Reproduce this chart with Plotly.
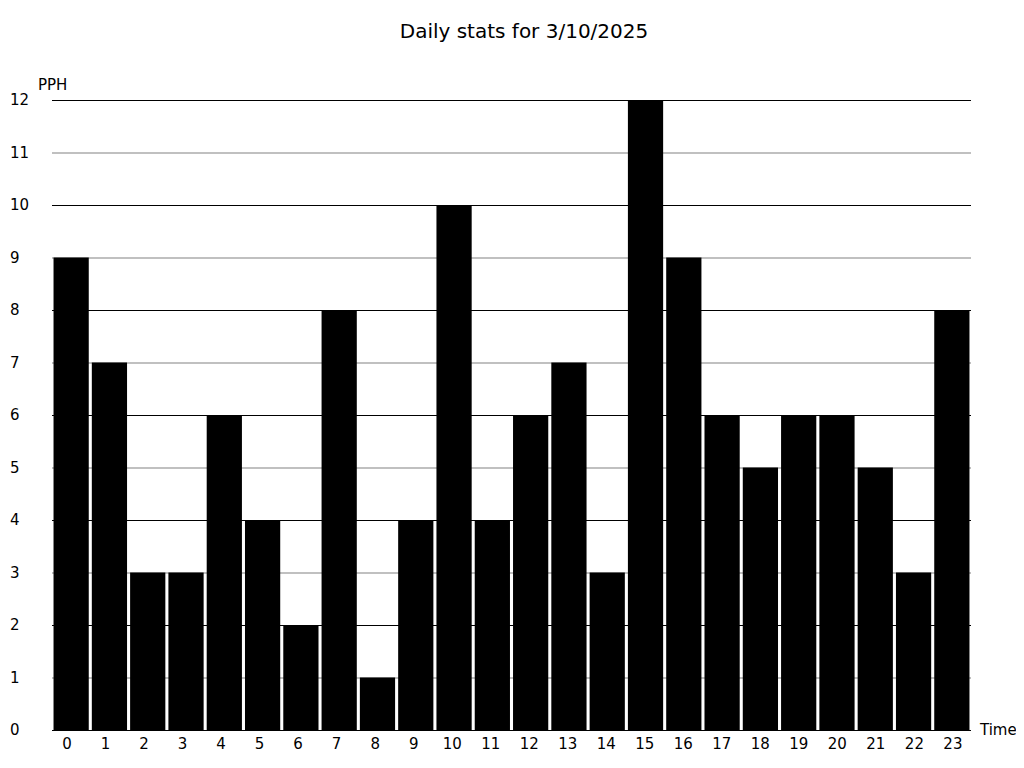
import plotly.graph_objects as go

hours = list(range(24))
pph = [9, 7, 3, 3, 6, 4, 2, 8, 1, 4, 10, 4, 6, 7, 3, 12, 9, 6, 5, 6, 6, 5, 3, 8]
y_ticks = list(range(13))

FONT = "DejaVu Sans"
W, H = 1016, 760
L, R, T, B = 44, 53, 91, 38
plot_w = W - L - R

fig = go.Figure()
fig.add_trace(go.Bar(
    x=hours, y=pph,
    marker=dict(color="#000000", line=dict(width=0)),
    showlegend=False, hoverinfo="x+y",
))
# invisible carrier so the label axis gets drawn
fig.add_trace(go.Scatter(
    x=hours, y=pph, xaxis="x2", mode="markers",
    marker=dict(opacity=0), showlegend=False, hoverinfo="skip",
))

# y tick labels sit flush left, so they are drawn as annotations
annotations = []
for v in y_ticks:
    annotations.append(dict(
        x=-L / plot_w, xref="paper", y=v, yref="y",
        text=str(v), showarrow=False, xanchor="left", yanchor="middle",
        font=dict(family=FONT, size=15, color="#000"),
    ))
annotations.append(dict(
    x=-16 / plot_w, xref="paper", y=1, yref="paper", yshift=14,
    text="PPH", showarrow=False, xanchor="left", yanchor="middle",
    font=dict(family=FONT, size=15, color="#000"),
))
annotations.append(dict(
    x=1, xref="paper", xshift=6, y=0, yref="paper",
    text="Time", showarrow=False, xanchor="left", yanchor="middle",
    font=dict(family=FONT, size=15, color="#000"),
))

fig.update_layout(
    width=W, height=H,
    margin=dict(l=L, r=R, t=T, b=B, autoexpand=False),
    paper_bgcolor="white", plot_bgcolor="white",
    bargap=0.08,
    title=dict(text="Daily stats for 3/10/2025", x=516 / W, xanchor="center",
               y=1 - 23 / H, yanchor="middle",
               font=dict(family=FONT, size=20, color="#000")),
    xaxis=dict(
        range=[-0.5, 23.5], showgrid=False, zeroline=False,
        showline=True, linecolor="#000", linewidth=1, ticks="",
        showticklabels=False,
    ),
    # the hour labels run on a slightly wider spacing than the bars
    xaxis2=dict(
        overlaying="x", anchor="y", side="bottom",
        range=[-0.39, 23.47], showgrid=False, zeroline=False, showline=False,
        tickmode="array", tickvals=hours, ticktext=[str(h) for h in hours],
        ticks="", ticklabelstandoff=3,
        tickfont=dict(family=FONT, size=15, color="#000"),
    ),
    yaxis=dict(
        range=[0, 12.02], dtick=2, tick0=0, showticklabels=False,
        showgrid=True, gridcolor="#000000", gridwidth=1, zeroline=False,
        minor=dict(dtick=1, tick0=0, showgrid=True, gridcolor="#c0c0c0", gridwidth=2),
        ticks="",
    ),
    annotations=annotations,
    font=dict(family=FONT, color="#000"),
)

fig.write_html("out.html")
